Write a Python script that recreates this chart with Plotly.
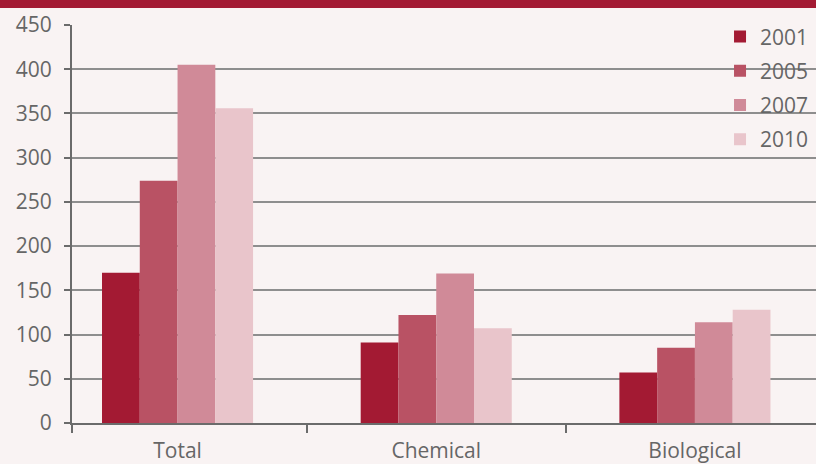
import plotly.graph_objects as go

# Data
categories = ["Total", "Chemical", "Biological"]
years = ["2001", "2005", "2007", "2010"]
values_2001 = [170, 91, 57]
values_2005 = [274, 122, 85]
values_2007 = [405, 169, 114]
values_2010 = [356, 107, 128]
y_ticks = [0, 50, 100, 150, 200, 250, 300, 350, 400, 450]

series = [values_2001, values_2005, values_2007, values_2010]
colors = ["#A31A33", "#B95264", "#D08A98", "#E9C5CB"]

W, H = 816, 464
M_L, M_R, M_T, M_B = 72, 0, 25, 41
plot_h = H - M_T - M_B
plot_w = W - M_L - M_R

x_pos = list(range(len(categories)))
boundaries = [(a + b) / 2 for a, b in zip(x_pos[:-1], x_pos[1:])]
x_range = [-0.408, 2.468]

fig = go.Figure()
for i, (yr, vals) in enumerate(zip(years, series)):
    fig.add_trace(go.Bar(
        x=x_pos, y=vals, name=yr,
        marker=dict(color=colors[i], line=dict(width=0)),
        legendgroup=yr,
    ))

axis_col = "#6b6b6b"
text_col = "#666666"
font_family = "Open Sans, Noto Sans, sans-serif"

fig.update_layout(
    width=W, height=H,
    margin=dict(l=M_L, r=M_R, t=M_T, b=M_B, pad=0, autoexpand=False),
    paper_bgcolor="#F9F3F3",
    plot_bgcolor="#F9F3F3",
    barmode="group",
    bargap=0.416,
    bargroupgap=0,
    font=dict(family=font_family, color=text_col, size=19),
    showlegend=True,
    legend=dict(
        x=0.871, y=1.022, xanchor="left", yanchor="top",
        bgcolor="rgba(0,0,0,0)",
        font=dict(size=21, color=text_col),
        tracegroupgap=4,
        itemsizing="constant",
        itemwidth=30,
    ),
    xaxis=dict(
        range=x_range,
        tickmode="array", tickvals=x_pos, ticktext=categories,
        ticks="", showgrid=False, zeroline=False,
        showline=True, linecolor=axis_col, linewidth=2,
        tickfont=dict(size=21, color=text_col),
        ticklabelstandoff=8,
        minor=dict(
            tickmode="array",
            tickvals=[x_range[0]] + boundaries,
            ticks="outside", ticklen=8, tickwidth=2, tickcolor=axis_col,
            showgrid=False,
        ),
    ),
    yaxis=dict(
        range=[0, 450],
        tickmode="array", tickvals=y_ticks,
        ticks="outside", ticklen=6, tickwidth=2, tickcolor=axis_col,
        showgrid=True, gridcolor="#8e8e8e", gridwidth=1.5,
        zeroline=False,
        showline=True, linecolor=axis_col, linewidth=2,
        tickfont=dict(size=21, color=text_col),
        ticklabelstandoff=8,
    ),
)

# Top brand band
fig.add_shape(
    type="rect", xref="paper", yref="paper",
    x0=-M_L / plot_w, x1=1.0,
    y0=1 + (M_T - 8) / plot_h, y1=1 + M_T / plot_h,
    fillcolor="#A31A33", line=dict(width=0), layer="above",
)

fig.write_html("out.html")
